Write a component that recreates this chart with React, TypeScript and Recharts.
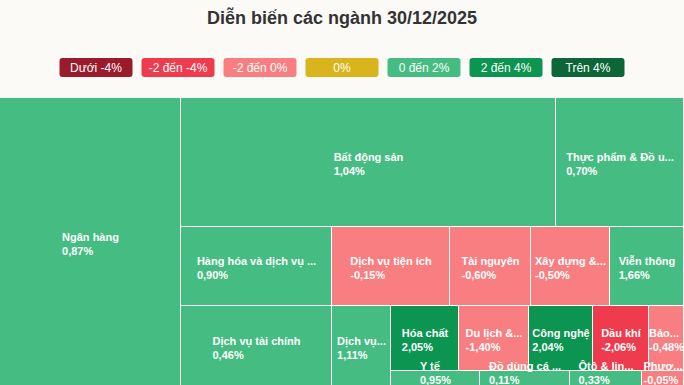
import { Treemap } from "recharts";

const TITLE = "Diễn biến các ngành 30/12/2025";

const LEGEND_LABELS = ["Dưới -4%", "-2 đến -4%", "-2 đến 0%", "0%", "0 đến 2%", "2 đến 4%", "Trên 4%"];
const LEGEND_COLORS = ["#9a1c2c", "#ee3c4e", "#f87e81", "#dab41d", "#45bd82", "#0b9551", "#0c6637"];

// sectors as labelled on the map (long names are cut the same way)
const SECTORS = [
  "Ngân hàng",
  "Bất động sản",
  "Thực phẩm & Đồ u...",
  "Hàng hóa và dịch vụ ...",
  "Dịch vụ tài chính",
  "Dịch vụ tiện ích",
  "Tài nguyên",
  "Xây dựng &...",
  "Viễn thông",
  "Dịch vụ...",
  "Hóa chất",
  "Du lịch &...",
  "Công nghệ",
  "Dầu khí",
  "Bảo...",
  "Y tế",
  "Đồ dùng cá ...",
  "Ôtô & lin...",
  "Phươ...",
];
// tile weight (estimated from tile area)
const SIZES = [52300, 48380, 16510, 11930, 12230, 9320, 6400, 6240, 5850, 4780, 4420, 4550, 4160, 3640, 2280, 1420, 1440, 1150, 670];
// % change on the day
const CHANGES = [0.87, 1.04, 0.7, 0.9, 0.46, -0.15, -0.6, -0.5, 1.66, 1.11, 2.05, -1.4, 2.04, -2.06, -0.48, 0.95, 0.11, 0.33, -0.05];

const FONT = "'Liberation Sans', Arial, sans-serif";
const CELL_FONT = `bold 11px ${FONT}`;

const leaf = (i: number) => ({ name: SECTORS[i], size: SIZES[i], change: CHANGES[i] });
const group = (...children: any[]) => ({ name: "", children });
// a zero-size first child keeps every sibling in one strip, stacked top to bottom
const stack = (...children: any[]) => ({ name: "", children: [{ name: "", size: 0 }, ...children] });
const span = (a: number, b: number) => SECTORS.slice(a, b + 1).map((_, k) => leaf(a + k));

const DATA = [
  leaf(0),
  stack(
    group(leaf(1), leaf(2)),
    group(
      leaf(3),
      leaf(4),
      stack(group(...span(5, 8)), group(leaf(9), stack(group(...span(10, 14)), group(...span(15, 18)))))
    )
  ),
];

function colorFor(v: number) {
  if (v < -4) return LEGEND_COLORS[0];
  if (v < -2) return LEGEND_COLORS[1];
  if (v < 0) return LEGEND_COLORS[2];
  if (v === 0) return LEGEND_COLORS[3];
  if (v <= 2) return LEGEND_COLORS[4];
  if (v <= 4) return LEGEND_COLORS[5];
  return LEGEND_COLORS[6];
}

const fmt = (v: number) => `${v.toFixed(2).replace(".", ",")}%`;

let ctx: CanvasRenderingContext2D | null = null;
function textWidth(s: string) {
  if (!ctx) ctx = document.createElement("canvas").getContext("2d");
  if (!ctx) return s.length * 6;
  ctx.font = CELL_FONT;
  return ctx.measureText(s).width;
}

function renderCell(props: any) {
  const { x, y, width, height, children, change, name } = props;
  if ((children && children.length) || change === undefined || !width || !height) return <g />;
  const value = fmt(change);
  const blockW = Math.max(textWidth(name), textWidth(value));
  const left = x + width / 2 - blockW / 2;
  const cy = y + height / 2;
  let valueY = cy + 12;
  if (valueY > y + height - 3) valueY = y + height - 3;
  const nameY = valueY - 14;
  return (
    <g>
      <rect x={x} y={y} width={width - 1} height={height - 1} fill={colorFor(change)} />
      <text x={left} y={nameY} fill="#fff" style={{ font: CELL_FONT }}>
        {name}
      </text>
      <text x={left} y={valueY} fill="#fff" style={{ font: CELL_FONT }}>
        {value}
      </text>
    </g>
  );
}

export default function App() {
  return (
    <div
      style={{
        position: "absolute",
        left: 0,
        top: 0,
        width: 684,
        height: 385,
        overflow: "hidden",
        background: "#fcfaf7",
      }}
    >
      <svg width={684} height={98} style={{ position: "absolute", left: 0, top: 0 }}>
        <text x={342} y={24} textAnchor="middle" fill="#333" style={{ font: `bold 18px ${FONT}` }}>
          {TITLE}
        </text>
        {LEGEND_LABELS.map((label, i) => {
          const bx = 59.5 + i * 82;
          return (
            <g key={label}>
              <rect x={bx} y={58} width={73} height={19} rx={3} fill={LEGEND_COLORS[i]} />
              <text x={bx + 36.5} y={72} textAnchor="middle" fill="#fff" style={{ font: `12px ${FONT}` }}>
                {label}
              </text>
            </g>
          );
        })}
      </svg>
      <div style={{ position: "absolute", left: 0, top: 98, width: 684, height: 289, background: "#fff" }}>
        <Treemap
          width={684}
          height={289}
          data={DATA}
          dataKey="size"
          nameKey="name"
          isAnimationActive={false}
          content={renderCell}
        />
      </div>
    </div>
  );
}
